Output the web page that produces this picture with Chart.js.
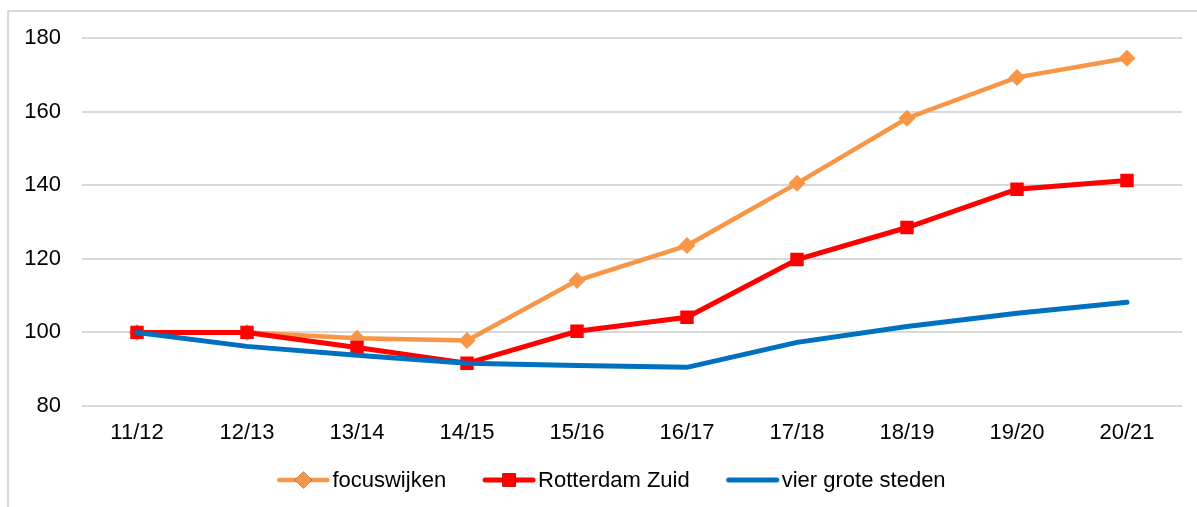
<!DOCTYPE html>
<html>
<head>
<meta charset="utf-8">
<script src="https://cdn.jsdelivr.net/npm/chart.js@4/dist/chart.umd.min.js"></script>
<style>
  html, body { margin: 0; padding: 0; background: #fff; }
  #wrap { position: relative; width: 1197px; height: 507px; overflow: hidden; }
  #frame { position: absolute; left: 7px; top: 10px; width: 1300px; height: 600px; border: 2px solid #d9d9d9; box-sizing: border-box; }
  #chart { position: absolute; left: 0; top: 0; }
</style>
</head>
<body>
<div id="wrap">
  <div id="frame"></div>
  <canvas id="chart" width="1197" height="507"></canvas>
</div>
<script>
const years = ['11/12', '12/13', '13/14', '14/15', '15/16', '16/17', '17/18', '18/19', '19/20', '20/21'];
const focuswijken = [100, 100, 98.4, 97.8, 114.1, 123.6, 140.5, 158.2, 169.3, 174.5];
const rotterdamZuid = [100, 100, 95.9, 91.6, 100.3, 104.1, 119.8, 128.5, 138.9, 141.3];
const vierGroteSteden = [100, 96.2, 93.8, 91.6, 91.0, 90.5, 97.3, 101.6, 105.2, 108.2];
const yTicks = [80, 100, 120, 140, 160, 180];

const FONT = '"Liberation Sans", Arial, sans-serif';

// legend drawn by hand so it looks like the Excel one (line with marker in the middle)
const lineLegend = {
  id: 'lineLegend',
  afterDraw(chart) {
    const ctx = chart.ctx;
    const sets = chart.data.datasets;
    const lineLen = 52, textGap = 3, itemGap = 37;
    ctx.save();
    ctx.font = '22px ' + FONT;
    ctx.textBaseline = 'middle';
    let total = 0;
    sets.forEach((ds, i) => {
      total += lineLen + textGap + ctx.measureText(ds.label).width;
      if (i < sets.length - 1) total += itemGap;
    });
    let x = chart.width / 2 + 13 - total / 2;
    const y = 480;
    sets.forEach(ds => {
      ctx.strokeStyle = ds.borderColor;
      ctx.lineWidth = ds.borderWidth;
      ctx.lineCap = 'round';
      ctx.beginPath();
      ctx.moveTo(x + 2, y);
      ctx.lineTo(x + lineLen - 2, y);
      ctx.stroke();
      if (ds.pointRadius > 0) {
        Chart.helpers.drawPoint(ctx, {
          pointStyle: ds.pointStyle,
          radius: ds.pointRadius,
          rotation: 0,
          borderWidth: 0
        }, x + lineLen / 2, y);
        ctx.fillStyle = ds.pointBackgroundColor;
        ctx.fill();
      }
      ctx.fillStyle = '#000';
      ctx.fillText(ds.label, x + lineLen + textGap, y + 1);
      x += lineLen + textGap + ctx.measureText(ds.label).width + itemGap;
    });
    ctx.restore();
  }
};

new Chart(document.getElementById('chart'), {
  type: 'line',
  data: {
    labels: years,
    datasets: [
      {
        label: 'focuswijken',
        data: focuswijken,
        borderColor: '#f79646',
        backgroundColor: '#f79646',
        pointBackgroundColor: '#f79646',
        borderWidth: 4.5,
        pointStyle: 'rectRot',
        pointRadius: 8.5,
        pointBorderWidth: 0,
        order: 3
      },
      {
        label: 'Rotterdam Zuid',
        data: rotterdamZuid,
        borderColor: '#ff0000',
        backgroundColor: '#ff0000',
        pointBackgroundColor: '#ff0000',
        borderWidth: 5,
        pointStyle: 'rect',
        pointRadius: 9.5,
        pointBorderWidth: 0,
        order: 2
      },
      {
        label: 'vier grote steden',
        data: vierGroteSteden,
        borderColor: '#0070c0',
        backgroundColor: '#0070c0',
        pointBackgroundColor: '#0070c0',
        borderWidth: 5,
        borderCapStyle: 'round',
        pointRadius: 0,
        order: 1
      }
    ]
  },
  options: {
    responsive: false,
    animation: false,
    tension: 0,
    layout: { padding: { left: 0, right: 15, top: 38, bottom: 61 } },
    plugins: {
      legend: { display: false },
      tooltip: { enabled: false }
    },
    scales: {
      x: {
        offset: true,
        grid: { display: false, drawTicks: false, offset: true },
        border: { display: false },
        ticks: { color: '#000', font: { family: FONT, size: 22 }, padding: 14, maxRotation: 0 },
        afterFit(scale) { scale.height = 40; }
      },
      y: {
        min: 80,
        max: 180,
        afterBuildTicks(scale) { scale.ticks = yTicks.map(v => ({ value: v })); },
        grid: { color: '#d9d9d9', lineWidth: 2, drawTicks: false },
        border: { display: false },
        ticks: { color: '#000', font: { family: FONT, size: 22 }, padding: 21 },
        afterFit(scale) { scale.width = 82; }
      }
    }
  },
  plugins: [lineLegend]
});
</script>
</body>
</html>
